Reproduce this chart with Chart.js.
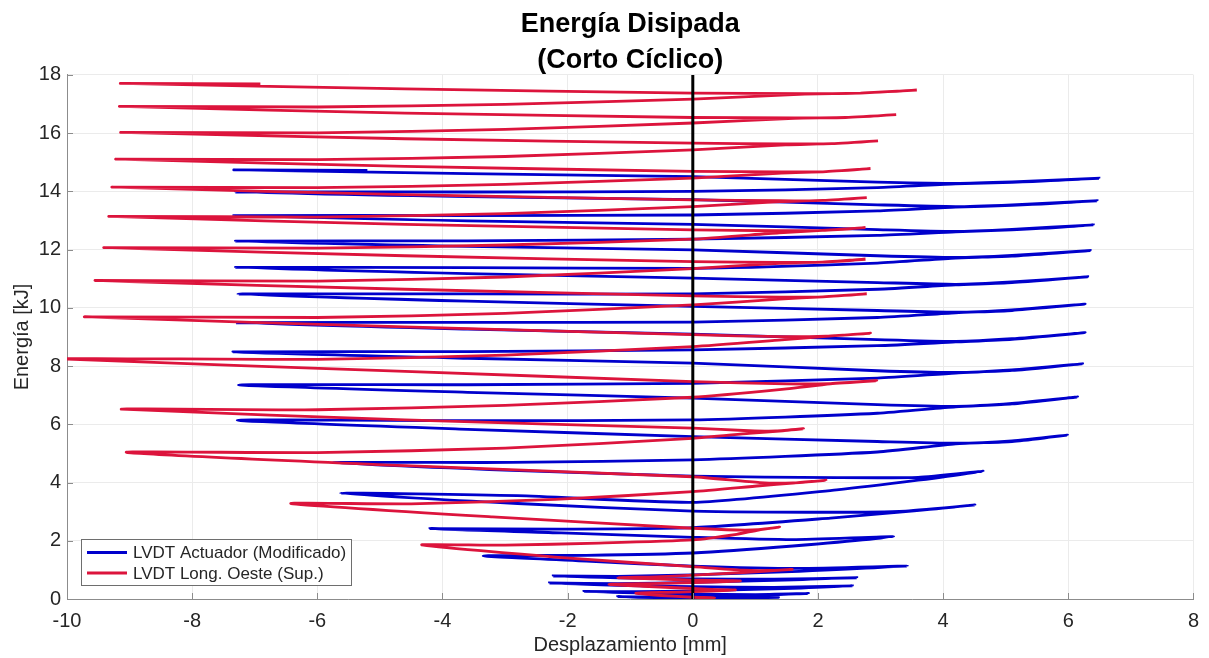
<!DOCTYPE html>
<html lang="es">
<head>
<meta charset="utf-8">
<title>Energía Disipada (Corto Cíclico)</title>
<script src="https://cdn.jsdelivr.net/npm/chart.js@4.4.1/dist/chart.umd.min.js"></script>
<style>
    html, body { margin: 0; padding: 0; background: #ffffff; }
    #contenedor { width: 1209px; height: 658px; position: relative; }
</style>
</head>
<body>
<div id="contenedor"><canvas id="main"></canvas></div>
<script>
// LVDT Actuador (Modificado): desplazamiento [mm] y energía acumulada [kJ], en orden de ensayo
const actuadorDesp = [
    0, 0.7, 1.37,
    0.6, 0, -0.6, -1.2,
    -0.6, 0, 1.0, 1.85,
    1.0, 0, -0.9, -1.74,
    -0.9, 0, 1.3, 2.55,
    1.3, 0, -1.2, -2.29,
    -1.2, 0, 1.3, 2.62,
    1.3, 0, -1.2, -2.23,
    -1.2, 0, 1.7, 3.43,
    1.7, 0, -1.7, -3.35,
    -1.7, 0, 1.6, 3.21,
    1.6, 0, -2.1, -4.2,
    -2.1, 0, 2.2, 3.4, 4.51,
    3.4, 2.2, 0, -2.8, -5.63,
    -2.8, 0, 2.3, 3.6, 4.64,
    3.6, 2.3, 0, -2.9, -5.76,
    -2.9, 0, 2.95, 4.2, 5.1, 5.99,
    5.1, 4.2, 2.95, 0, -3.6, -7.28,
    -3.6, 0, 2.95, 4.2, 5.1, 6.15,
    5.1, 4.2, 2.95, 0, -3.6, -7.26,
    -3.6, 0, 2.95, 4.2, 5.1, 6.23,
    5.1, 4.2, 2.95, 0, -3.6, -7.35,
    -3.6, 0, 2.95, 4.2, 5.1, 6.27,
    5.1, 4.2, 2.95, 0, -3.6, -7.30,
    -3.6, 0, 2.95, 4.2, 5.1, 6.27,
    5.1, 4.2, 2.95, 0, -3.6, -7.27,
    -3.6, 0, 2.95, 4.2, 5.1, 6.31,
    5.1, 4.2, 2.95, 0, -3.6, -7.31,
    -3.6, 0, 2.95, 4.2, 5.1, 6.35,
    5.1, 4.2, 2.95, 0, -3.6, -7.31,
    -3.6, 0, 2.95, 4.2, 5.1, 6.40,
    5.1, 4.2, 2.95, 0, -3.6, -7.34,
    -3.6, 0, 2.95, 4.2, 5.1, 6.46,
    5.1, 4.2, 2.95, 0, -3.6, -7.31,
    -3.6, 0, 2.95, 4.2, 5.1, 6.49,
    5.1, 4.2, 2.95, 0, -3.6, -7.33,
    -5.2
];
const actuadorEnergia = [
    0, 0.02, 0.06,
    0.04, 0.04, 0.05, 0.08,
    0.07, 0.09, 0.13, 0.19,
    0.15, 0.17, 0.21, 0.26,
    0.25, 0.28, 0.35, 0.45,
    0.40, 0.42, 0.47, 0.55,
    0.53, 0.57, 0.64, 0.73,
    0.68, 0.69, 0.73, 0.79,
    0.78, 0.83, 0.95, 1.13,
    1.05, 1.13, 1.30, 1.48,
    1.50, 1.58, 1.82, 2.14,
    2.04, 2.12, 2.27, 2.42,
    2.40, 2.45, 2.78, 3.00, 3.23,
    3.02, 2.98, 3.02, 3.28, 3.63,
    3.55, 3.32, 3.75, 4.08, 4.39,
    4.18, 4.17, 4.22, 4.42, 4.68,
    4.69, 4.78, 5.05, 5.33, 5.41, 5.63,
    5.43, 5.35, 5.41, 5.58, 5.83, 6.14,
    6.13, 6.15, 6.38, 6.60, 6.70, 6.94,
    6.72, 6.62, 6.68, 6.90, 7.10, 7.35,
    7.36, 7.41, 7.59, 7.76, 7.85, 8.08,
    7.87, 7.78, 7.84, 8.10, 8.27, 8.49,
    8.50, 8.56, 8.70, 8.83, 8.92, 9.15,
    8.94, 8.85, 8.91, 9.10, 9.27, 9.49,
    9.50, 9.51, 9.67, 9.83, 9.91, 10.13,
    9.93, 9.85, 9.91, 10.05, 10.23, 10.47,
    10.48, 10.48, 10.64, 10.79, 10.87, 11.07,
    10.89, 10.81, 10.87, 11.02, 11.18, 11.39,
    11.38, 11.36, 11.54, 11.71, 11.78, 11.97,
    11.80, 11.73, 11.79, 11.99, 12.11, 12.29,
    12.30, 12.36, 12.49, 12.61, 12.68, 12.85,
    12.70, 12.63, 12.69, 12.87, 12.99, 13.17,
    13.17, 13.19, 13.33, 13.46, 13.52, 13.68,
    13.54, 13.48, 13.54, 13.72, 13.82, 13.98,
    13.98, 14.00, 14.13, 14.26, 14.31, 14.45,
    14.33, 14.28, 14.32, 14.51, 14.61, 14.74,
    14.72
];

// LVDT Long. Oeste (Sup.)
const oesteDesp = [
    0, 0.35,
    0, -0.5, -0.91,
    -0.4, 0, 0.68,
    0.3, 0, -0.7, -1.34,
    -0.7, 0, 0.76,
    0.3, 0, -0.6, -1.2,
    -0.6, 0, 0.8, 1.59,
    1.2, 0.8, 0, -2.2, -4.33,
    -3, -1.5, 0, 0.7, 1.05, 1.39,
    1.05, 0.7, 0, -3.2, -6.42,
    -4.5, -2.2, 0, 1.07, 1.6, 2.13,
    1.6, 1.07, 0, -4.6, -9.05,
    -6, -3, 0, 0.9, 1.33, 1.77,
    1.33, 0.9, 0, -4.6, -9.13,
    -6, -3, 0, 1.5, 2.2, 2.94,
    2.2, 1.5, 0, -4.6, -10.1,
    -6, -3, 0, 1.42, 2.13, 2.84,
    2.13, 1.42, 0, -4.6, -9.72,
    -6, -3, 0, 1.39, 2.08, 2.78,
    2.08, 1.39, 0, -4.6, -9.55,
    -6, -3, 0, 1.38, 2.07, 2.76,
    2.07, 1.38, 0, -4.6, -9.41,
    -6, -3, 0, 1.38, 2.07, 2.76,
    2.07, 1.38, 0, -4.6, -9.33,
    -6, -3, 0, 1.39, 2.08, 2.78,
    2.08, 1.39, 0, -4.6, -9.28,
    -6, -3, 0, 1.42, 2.13, 2.84,
    2.13, 1.42, 0, -4.6, -9.22,
    -6, -3, 0, 1.48, 2.22, 2.96,
    2.22, 1.48, 0, -4.6, -9.14,
    -6, -3, 0, 1.62, 2.44, 3.25,
    2.44, 1.62, 0, -4.6, -9.16,
    -6, -3, 0, 1.79, 2.68, 3.58,
    2.68, 1.79, 0, -4.6, -9.14,
    -6.91
];
const oesteEnergia = [
    0, 0.04,
    0.06, 0.12, 0.20,
    0.23, 0.25, 0.31,
    0.33, 0.36, 0.43, 0.50,
    0.53, 0.56, 0.62,
    0.64, 0.65, 0.69, 0.73,
    0.76, 0.82, 0.91, 1.02,
    0.98, 0.99, 1.11, 1.44, 1.86,
    1.85, 1.92, 2.03, 2.22, 2.37, 2.47,
    2.38, 2.37, 2.43, 2.82, 3.28,
    3.27, 3.42, 3.69, 3.89, 3.98, 4.08,
    3.99, 4.00, 4.20, 4.58, 5.04,
    5.03, 5.18, 5.52, 5.69, 5.76, 5.85,
    5.77, 5.78, 5.87, 6.15, 6.52,
    6.50, 6.65, 6.93, 7.22, 7.39, 7.50,
    7.40, 7.39, 7.47, 7.82, 8.25,
    8.23, 8.38, 8.67, 8.90, 9.02, 9.13,
    9.03, 9.01, 9.08, 9.35, 9.69,
    9.67, 9.81, 10.10, 10.30, 10.38, 10.48,
    10.38, 10.37, 10.41, 10.64, 10.94,
    10.92, 11.06, 11.35, 11.53, 11.57, 11.67,
    11.57, 11.56, 11.59, 11.79, 12.07,
    12.05, 12.16, 12.36, 12.58, 12.66, 12.76,
    12.66, 12.65, 12.68, 12.87, 13.14,
    13.12, 13.24, 13.48, 13.65, 13.69, 13.79,
    13.69, 13.68, 13.71, 13.89, 14.15,
    14.13, 14.24, 14.46, 14.63, 14.68, 14.78,
    14.68, 14.67, 14.69, 14.86, 15.11,
    15.09, 15.20, 15.43, 15.60, 15.64, 15.74,
    15.64, 15.63, 15.66, 15.81, 16.03,
    16.01, 16.13, 16.35, 16.51, 16.54, 16.64,
    16.54, 16.53, 16.54, 16.69, 16.92,
    16.90, 16.99, 17.17, 17.34, 17.38, 17.48,
    17.38, 17.36, 17.38, 17.52, 17.71,
    17.69
];

// Línea de referencia en desplazamiento nulo
const ejeCeroDesp = [0, 0];
const ejeCeroEnergia = [0, 18];

const colorActuador = '#0000cc';
const colorOeste = '#dc143c';
const colorTexto = '#262626';

Chart.defaults.font.family = "'Liberation Sans', Arial, Helvetica, sans-serif";

function aPuntos(xs, ys) {
    return xs.map((x, i) => ({ x: x, y: ys[i] }));
}

// Leyenda dibujada dentro del área del gráfico (esquina inferior izquierda)
const leyendaInterna = {
    id: 'leyendaInterna',
    afterDraw(chart) {
        const ctx = chart.ctx;
        const area = chart.chartArea;
        const x = area.left + 14;
        const y = area.bottom - 60;
        const w = 270;
        const h = 46;
        const items = chart.data.datasets.filter(ds => ds.enLeyenda);

        ctx.save();
        ctx.fillStyle = '#ffffff';
        ctx.fillRect(x, y, w, h);
        ctx.strokeStyle = '#6e6e6e';
        ctx.lineWidth = 1;
        ctx.strokeRect(x + 0.5, y + 0.5, w, h);

        ctx.font = "17px 'Liberation Sans', Arial, sans-serif";
        ctx.textBaseline = 'middle';
        items.forEach((ds, i) => {
            const fila = y + 13.5 + i * 20.5;
            ctx.strokeStyle = ds.borderColor;
            ctx.lineWidth = 3;
            ctx.beginPath();
            ctx.moveTo(x + 6, fila);
            ctx.lineTo(x + 46, fila);
            ctx.stroke();
            ctx.fillStyle = colorTexto;
            ctx.fillText(ds.label, x + 52, fila + 1);
        });
        ctx.restore();
    }
};

// Marcas de graduación hacia el interior de los ejes
const marcasInternas = {
    id: 'marcasInternas',
    afterDraw(chart) {
        const ctx = chart.ctx;
        const area = chart.chartArea;
        const sx = chart.scales.x;
        const sy = chart.scales.y;
        ctx.save();
        ctx.strokeStyle = '#8c8c8c';
        ctx.lineWidth = 1;
        ctx.beginPath();
        sx.ticks.forEach(t => {
            const px = Math.round(sx.getPixelForValue(t.value)) + 0.5;
            ctx.moveTo(px, area.bottom);
            ctx.lineTo(px, area.bottom - 6);
        });
        sy.ticks.forEach(t => {
            const py = Math.round(sy.getPixelForValue(t.value)) + 0.5;
            ctx.moveTo(area.left, py);
            ctx.lineTo(area.left + 6, py);
        });
        ctx.stroke();
        ctx.restore();
    }
};

new Chart(document.getElementById('main').getContext('2d'), {
    type: 'scatter',
    data: {
        datasets: [
            {
                label: 'Desplazamiento nulo',
                data: aPuntos(ejeCeroDesp, ejeCeroEnergia),
                showLine: true,
                borderColor: '#000000',
                borderWidth: 3,
                pointRadius: 0,
                order: 0
            },
            {
                label: 'LVDT Actuador (Modificado)',
                data: aPuntos(actuadorDesp, actuadorEnergia),
                showLine: true,
                borderColor: colorActuador,
                borderWidth: 2.8,
                pointRadius: 0,
                tension: 0.2,
                order: 2,
                enLeyenda: true
            },
            {
                label: 'LVDT Long. Oeste (Sup.)',
                data: aPuntos(oesteDesp, oesteEnergia),
                showLine: true,
                borderColor: colorOeste,
                borderWidth: 2.8,
                pointRadius: 0,
                tension: 0.2,
                order: 1,
                enLeyenda: true
            }
        ]
    },
    options: {
        responsive: true,
        maintainAspectRatio: false,
        animation: false,
        layout: { padding: { left: 0, right: 14, top: 0, bottom: 0 } },
        scales: {
            x: {
                type: 'linear',
                min: -10,
                max: 8,
                ticks: { stepSize: 2, color: colorTexto, font: { size: 20 }, padding: 10 },
                grid: { color: '#ebebeb', drawTicks: false },
                border: { color: '#8c8c8c', width: 1 },
                title: {
                    display: true,
                    text: 'Desplazamiento [mm]',
                    color: colorTexto,
                    font: { size: 20 },
                    padding: { top: 0, bottom: 1 }
                },
                afterFit: scale => { scale.height = 59; }
            },
            y: {
                type: 'linear',
                min: 0,
                max: 18,
                ticks: { stepSize: 2, color: colorTexto, font: { size: 20 }, padding: 6 },
                grid: { color: '#ebebeb', drawTicks: false },
                border: { color: '#8c8c8c', width: 1 },
                title: {
                    display: true,
                    text: 'Energía [kJ]',
                    color: colorTexto,
                    font: { size: 20 },
                    padding: { top: 10, bottom: 0 }
                },
                afterFit: scale => { scale.width = 67; }
            }
        },
        plugins: {
            legend: { display: false },
            tooltip: { enabled: false },
            title: {
                display: true,
                fullSize: false,
                text: ['Energía Disipada', '(Corto Cíclico)'],
                color: '#000000',
                font: { size: 27, weight: 'bold', lineHeight: 1.333 },
                padding: { top: 7, bottom: -4 }
            }
        }
    },
    plugins: [leyendaInterna, marcasInternas]
});
</script>
</body>
</html>
